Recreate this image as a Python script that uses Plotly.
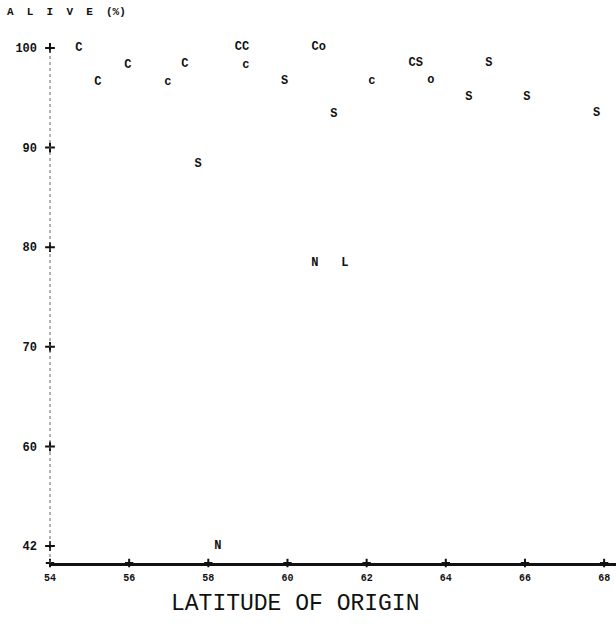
import plotly.graph_objects as go

# Data
latitude = [54.73, 55.21, 55.97, 56.98, 57.41, 57.74, 58.85, 58.95, 59.93, 60.79,
            61.17, 60.69, 61.45, 62.13, 63.24, 63.62, 65.09, 64.58, 66.05, 67.81, 58.24]
alive = [100.0, 96.6, 98.3, 96.6, 98.4, 88.4, 100.1, 98.3, 96.7, 100.1,
         93.4, 78.4, 78.4, 96.7, 98.5, 96.8, 98.5, 95.1, 95.1, 93.5, 50.0]
symbols = ["C", "C", "C", "c", "C", "S", "CC", "c", "S", "Co",
           "S", "N", "L", "c", "CS", "o", "S", "S", "S", "S", "N"]

y_tickvals = [50, 60, 70, 80, 90, 100]
y_ticktext = ["42", "60", "70", "80", "90", "100"]
x_tickvals = [54, 56, 58, 60, 62, 64, 66, 68]
x_ticktext = ["54", "56", "58", "60", "62", "64", "66", "68"]

X_MIN, X_MAX = 54.0, 68.3
Y_MIN, Y_MAX = 48.3, 101.8

MONO = "Liberation Mono"

fig = go.Figure()

# data letters
fig.add_trace(go.Scatter(
    x=latitude, y=alive, mode="text", text=symbols,
    textposition="middle center",
    textfont=dict(family=MONO, size=12, color="#111", weight="bold"),
    cliponaxis=False, hoverinfo="skip", showlegend=False))

# "+" tick markers on the y axis
fig.add_trace(go.Scatter(
    x=[X_MIN] * len(y_tickvals), y=y_tickvals, mode="markers",
    marker=dict(symbol="cross-thin", size=7, line=dict(width=2, color="#111")),
    cliponaxis=False, hoverinfo="skip", showlegend=False))

# "+" tick markers on the x axis
fig.add_trace(go.Scatter(
    x=x_tickvals, y=[Y_MIN] * len(x_tickvals), mode="markers",
    marker=dict(symbol="cross-thin", size=6, line=dict(width=2, color="#111")),
    cliponaxis=False, hoverinfo="skip", showlegend=False))

fig.update_layout(
    width=616, height=627,
    margin=dict(l=50, r=0, t=30, b=64),
    paper_bgcolor="white", plot_bgcolor="white",
    xaxis=dict(range=[X_MIN, X_MAX], tickvals=x_tickvals, ticktext=x_ticktext,
               showgrid=False, zeroline=False, showline=True,
               linecolor="#111", linewidth=3, ticks="",
               ticklabelstandoff=3,
               tickfont=dict(family=MONO, size=10, color="#111", weight="bold")),
    yaxis=dict(range=[Y_MIN, Y_MAX], tickvals=y_tickvals, ticktext=y_ticktext,
               showgrid=False, zeroline=False, showline=False, ticks="",
               ticklabelstandoff=12,
               tickfont=dict(family=MONO, size=12, color="#111", weight="bold")),
    shapes=[dict(type="line", xref="paper", yref="y", x0=0, x1=0,
                 y0=Y_MIN, y1=max(y_tickvals),
                 line=dict(color="#666", width=1, dash="dot"))],
    annotations=[
        dict(text="A  L  I  V  E  (%)", xref="paper", yref="paper",
             x=-0.08, y=1.034, xanchor="left", yanchor="middle", showarrow=False,
             font=dict(family=MONO, size=11, color="#111", weight="bold")),
        dict(text="LATITUDE OF ORIGIN", xref="paper", yref="paper",
             x=0.433, y=-0.077, xanchor="center", yanchor="middle", showarrow=False,
             font=dict(family=MONO, size=23, color="#111")),
    ],
)

fig.write_html("out.html")
